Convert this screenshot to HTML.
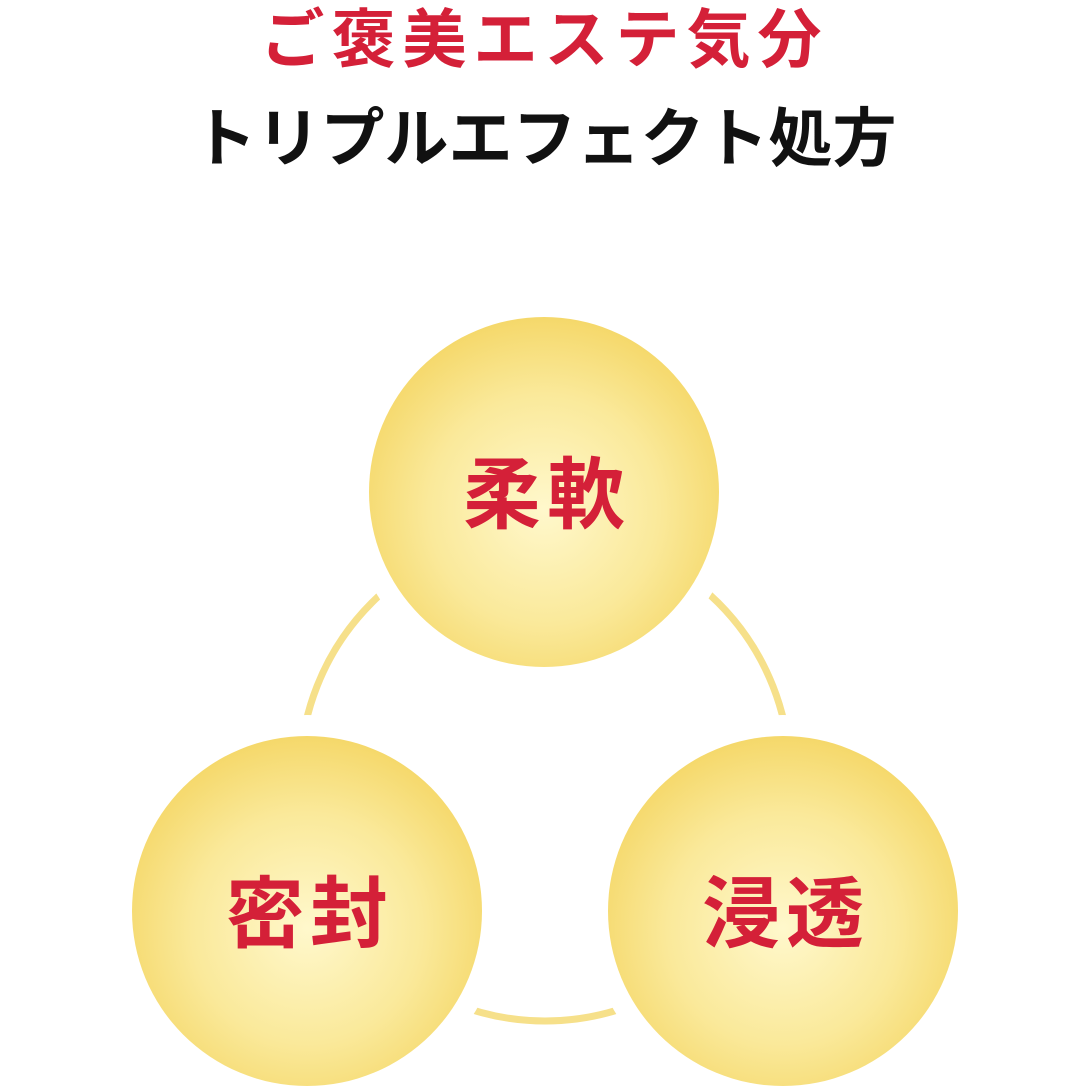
<!DOCTYPE html>
<html><head><meta charset="utf-8"><style>
html,body{margin:0;padding:0;background:#fff;}
body{width:1089px;height:1089px;position:relative;overflow:hidden;font-family:"Liberation Sans","Noto Sans CJK JP",sans-serif;}
.t{position:absolute;left:0;width:1089px;text-align:center;font-weight:bold;white-space:nowrap;}
</style></head><body>
<div class="t" style="top:0px;font-size:64px;color:#d42038;letter-spacing:7px;line-height:80px;">ご褒美エステ気分</div>
<div class="t" style="top:96px;font-size:64px;color:#111;letter-spacing:0px;line-height:86px;">トリプルエフェクト処方</div>
<svg width="1089" height="1089" style="position:absolute;left:0;top:0">
<defs>
<radialGradient id="g" cx="0.5" cy="0.55" r="0.55">
<stop offset="0" stop-color="#fff8cc"/>
<stop offset="0.6" stop-color="#fae99a"/>
<stop offset="1" stop-color="#f5d86a"/>
</radialGradient>
</defs>
<circle cx="545" cy="776" r="245" fill="none" stroke="#f6e08a" stroke-width="7"/>
<circle cx="544" cy="492" r="196" fill="#fff"/>
<circle cx="307" cy="911" r="196" fill="#fff"/>
<circle cx="783" cy="911" r="196" fill="#fff"/>
<circle cx="544" cy="492" r="175" fill="url(#g)"/>
<circle cx="307" cy="911" r="175" fill="url(#g)"/>
<circle cx="783" cy="911" r="175" fill="url(#g)"/>
<g font-family="Liberation Sans,Noto Sans CJK JP,sans-serif" font-weight="bold" font-size="78" fill="#d42038" text-anchor="middle" letter-spacing="6">
<text x="547" y="522">柔軟</text>
<text x="310" y="941">密封</text>
<text x="786" y="941">浸透</text>
</g>
</svg>
</body></html>
